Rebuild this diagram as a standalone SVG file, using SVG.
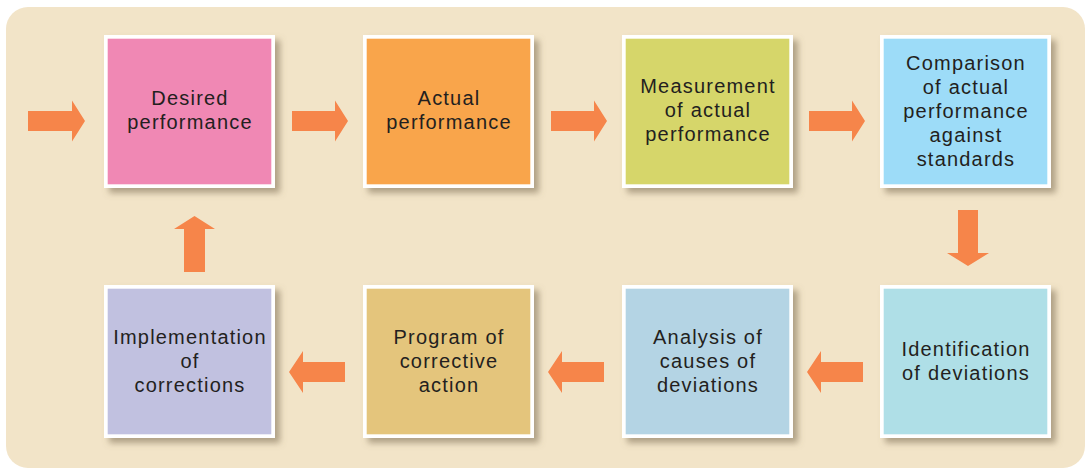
<svg xmlns="http://www.w3.org/2000/svg" width="1086" height="469" viewBox="0 0 1086 469">
<defs>
<filter id="sh" x="-10%" y="-10%" width="130%" height="130%">
<feDropShadow dx="5" dy="5" stdDeviation="3" flood-color="#7a6a50" flood-opacity="0.55"/>
</filter>
<style>
.frame{fill:#ffffff;filter:url(#sh);}
.lbl{font-family:"Liberation Sans",Arial,sans-serif;font-size:20px;letter-spacing:1.2px;fill:#231f20;text-anchor:middle;}
.arr{fill:#F6854A;}
</style>
</defs>
<rect x="0" y="0" width="1086" height="469" fill="#ffffff"/>
<rect x="6" y="7" width="1079" height="461" rx="22" fill="#F2E4C8"/>

<g id="connectors">
<polygon class="arr" points="28,111 72,111 72,100.5 85,121 72,141.5 72,131 28,131"/>
<polygon class="arr" points="292,111 335,111 335,100.5 348,121 335,141.5 335,131 292,131"/>
<polygon class="arr" points="551,111 594,111 594,100.5 607,121 594,141.5 594,131 551,131"/>
<polygon class="arr" points="809,111 852,111 852,100.5 865,121 852,141.5 852,131 809,131"/>
<polygon class="arr" points="958,210 978,210 978,253 989,253 968,266 947,253 958,253"/>
<polygon class="arr" points="863,362 821,362 821,351 807,372 821,393 821,382 863,382"/>
<polygon class="arr" points="604,362 562,362 562,351 548,372 562,393 562,382 604,382"/>
<polygon class="arr" points="345,362 303,362 303,351 289,372 303,393 303,382 345,382"/>
<polygon class="arr" points="184,272 184,229 174,229 194.5,216 215,229 205,229 205,272"/>
</g>

<g id="desired">
<rect class="frame" x="104" y="35" width="171" height="153"/>
<rect x="107.7" y="38.7" width="163.6" height="145.6" fill="#F088B4"/>
<text class="lbl" x="190" y="105">Desired</text>
<text class="lbl" x="190" y="129">performance</text>
</g>

<g id="actual">
<rect class="frame" x="363" y="35" width="171" height="153"/>
<rect x="366.7" y="38.7" width="163.6" height="145.6" fill="#F9A54B"/>
<text class="lbl" x="449" y="105">Actual</text>
<text class="lbl" x="449" y="129">performance</text>
</g>

<g id="measurement">
<rect class="frame" x="622" y="35" width="171" height="153"/>
<rect x="625.7" y="38.7" width="163.6" height="145.6" fill="#D6D66A"/>
<text class="lbl" x="708" y="93">Measurement</text>
<text class="lbl" x="708" y="117">of actual</text>
<text class="lbl" x="708" y="141">performance</text>
</g>

<g id="comparison">
<rect class="frame" x="880" y="35" width="171" height="153"/>
<rect x="883.7" y="38.7" width="163.6" height="145.6" fill="#9DDCF8"/>
<text class="lbl" x="966" y="70">Comparison</text>
<text class="lbl" x="966" y="94">of actual</text>
<text class="lbl" x="966" y="118">performance</text>
<text class="lbl" x="966" y="142">against</text>
<text class="lbl" x="966" y="166">standards</text>
</g>

<g id="identification">
<rect class="frame" x="880" y="285" width="171" height="153"/>
<rect x="883.7" y="288.7" width="163.6" height="145.6" fill="#AFDFE7"/>
<text class="lbl" x="966" y="356">Identification</text>
<text class="lbl" x="966" y="380">of deviations</text>
</g>

<g id="analysis">
<rect class="frame" x="622" y="285" width="171" height="153"/>
<rect x="625.7" y="288.7" width="163.6" height="145.6" fill="#B4D4E4"/>
<text class="lbl" x="708" y="344">Analysis of</text>
<text class="lbl" x="708" y="368">causes of</text>
<text class="lbl" x="708" y="392">deviations</text>
</g>

<g id="program">
<rect class="frame" x="363" y="285" width="171" height="153"/>
<rect x="366.7" y="288.7" width="163.6" height="145.6" fill="#E4C57C"/>
<text class="lbl" x="449" y="344">Program of</text>
<text class="lbl" x="449" y="368">corrective</text>
<text class="lbl" x="449" y="392">action</text>
</g>

<g id="implementation">
<rect class="frame" x="104" y="285" width="171" height="153"/>
<rect x="107.7" y="288.7" width="163.6" height="145.6" fill="#C1C1E0"/>
<text class="lbl" x="190" y="344">Implementation</text>
<text class="lbl" x="190" y="368">of</text>
<text class="lbl" x="190" y="392">corrections</text>
</g>
</svg>
